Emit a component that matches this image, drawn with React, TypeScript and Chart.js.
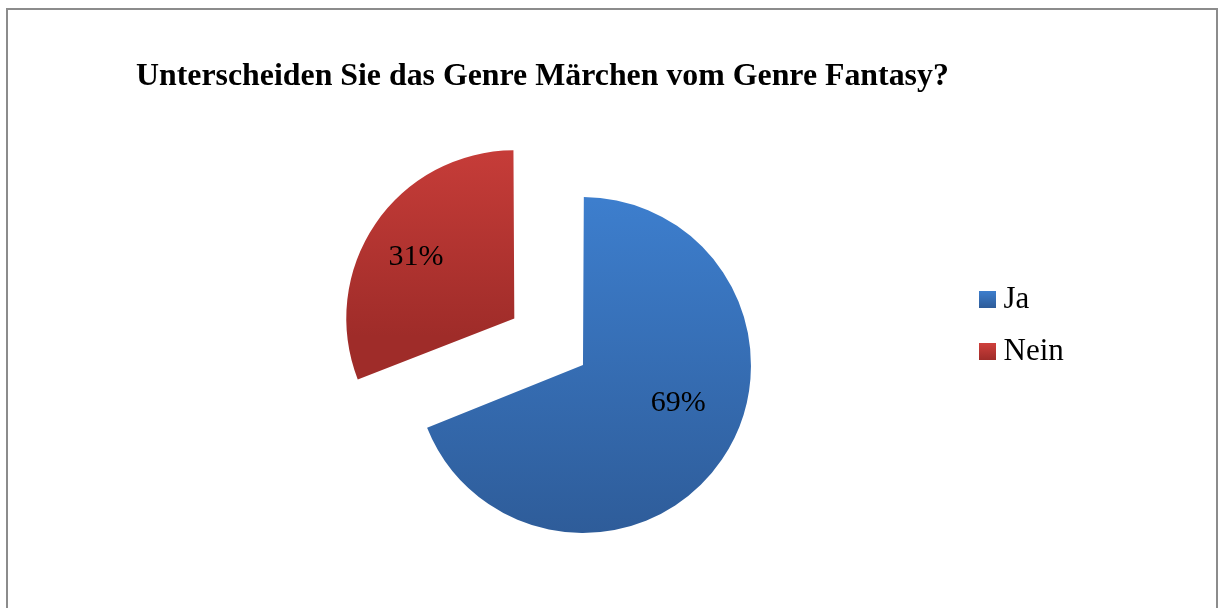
import React, { useEffect, useRef } from 'react';
import { Chart, registerables } from 'chart.js';

Chart.register(...registerables);

// ---- data ----
const TITLE = 'Unterscheiden Sie das Genre Märchen vom Genre Fantasy?';
const categories = ['Ja', 'Nein'];
const values = [69, 31];

// ---- styles ----
const topColors = ['#3d7ecd', '#cf403c'];
const bottomColors = ['#2e5c99', '#9f2c29'];
const FONT = "'Liberation Serif', 'Times New Roman', serif";
const RADIUS = 162.6;
const OFFSETS = [21.6, 310.4];
const LABEL_ANGLE_FRAC = [0.45, 0.48];
const LABEL_RADIUS_FRAC = [0.61, 0.69];

const total = values.reduce((a, b) => a + b, 0);
const valueLabels = values.map((v) => `${Math.round((v / total) * 100)}%`);

function sliceGeometry(chart: any, index: number) {
  const area = chart.chartArea;
  const cx = (area.left + area.right) / 2;
  const cy = (area.top + area.bottom) / 2;
  let start = -Math.PI / 2;
  for (let i = 0; i < index; i++) start += (values[i] / total) * 2 * Math.PI;
  const end = start + (values[index] / total) * 2 * Math.PI;
  const mid = (start + end) / 2;
  const t = OFFSETS[index] / 4;
  const fix = 1 - Math.sin(Math.min(Math.PI, end - start));
  const r = RADIUS + t * fix;
  const ax = cx + Math.cos(mid) * t;
  const ay = cy + Math.sin(mid) * t;
  return { start, end, ax, ay, r };
}

function contains(start: number, end: number, angle: number) {
  for (let k = -2; k <= 2; k++) {
    const a = angle + k * 2 * Math.PI;
    if (a >= start && a <= end) return true;
  }
  return false;
}

function sliceGradient(context: any) {
  const chart = context.chart;
  const i = context.dataIndex;
  if (!chart.chartArea || i === undefined) return topColors[i || 0];
  const g = sliceGeometry(chart, i);
  const ys = [g.ay, g.ay + g.r * Math.sin(g.start), g.ay + g.r * Math.sin(g.end)];
  if (contains(g.start, g.end, -Math.PI / 2)) ys.push(g.ay - g.r);
  if (contains(g.start, g.end, Math.PI / 2)) ys.push(g.ay + g.r);
  const y0 = Math.min(...ys);
  const y1 = Math.max(...ys);
  const grad = chart.ctx.createLinearGradient(0, y0, 0, y1);
  grad.addColorStop(0, topColors[i]);
  grad.addColorStop(1, bottomColors[i]);
  return grad;
}

function makeSprite(i: number) {
  const c = document.createElement('canvas');
  c.width = 17;
  c.height = 17;
  const x = c.getContext('2d')!;
  const grad = x.createLinearGradient(0, 0, 0, 17);
  grad.addColorStop(0, topColors[i]);
  grad.addColorStop(1, bottomColors[i]);
  x.fillStyle = grad;
  x.fillRect(0, 0, 17, 17);
  return c;
}

const sliceLabelPlugin = {
  id: 'sliceLabels',
  afterDatasetsDraw(chart: any) {
    const meta = chart.getDatasetMeta(0);
    const ctx = chart.ctx;
    ctx.save();
    ctx.font = `30px ${FONT}`;
    ctx.fillStyle = '#000';
    ctx.textAlign = 'center';
    ctx.textBaseline = 'middle';
    meta.data.forEach((arc: any, i: number) => {
      const { x, y, startAngle, endAngle, outerRadius } = arc.getProps(
        ['x', 'y', 'startAngle', 'endAngle', 'outerRadius'],
        true
      );
      const t = (arc.options.offset || 0) / 4;
      const mid = (startAngle + endAngle) / 2;
      const fix = 1 - Math.sin(Math.min(Math.PI, endAngle - startAngle));
      const r = outerRadius + t * fix;
      const ax = x + Math.cos(mid) * t;
      const ay = y + Math.sin(mid) * t;
      const ang = startAngle + LABEL_ANGLE_FRAC[i] * (endAngle - startAngle);
      const rr = LABEL_RADIUS_FRAC[i] * r;
      ctx.fillText(valueLabels[i], ax + Math.cos(ang) * rr, ay + Math.sin(ang) * rr);
    });
    ctx.restore();
  },
};

export default function App() {
  const canvasRef = useRef<HTMLCanvasElement | null>(null);

  useEffect(() => {
    if (!canvasRef.current) return;
    const sprites = categories.map((_, i) => makeSprite(i));
    const baseGen = (Chart as any).overrides.doughnut.plugins.legend.labels.generateLabels;
    const chart = new Chart(canvasRef.current, {
      type: 'pie',
      data: {
        labels: categories,
        datasets: [
          {
            data: values,
            backgroundColor: sliceGradient as any,
            borderWidth: 0,
            offset: OFFSETS,
            clip: false as any,
          },
        ],
      },
      options: {
        responsive: false,
        animation: false,
        events: [],
        radius: RADIUS,
        cutout: '0%',
        layout: { padding: { left: 183, right: 150, top: 253, bottom: 147 } },
        plugins: {
          title: { display: false },
          tooltip: { enabled: false },
          legend: {
            position: 'right',
            align: 'start',
            maxWidth: 100,
            labels: {
              usePointStyle: true,
              boxWidth: 1,
              padding: 21,
              color: '#000',
              font: { family: FONT, size: 31 },
              generateLabels: (c: any) =>
                baseGen(c).map((item: any, i: number) => ({
                  ...item,
                  pointStyle: sprites[i],
                  lineWidth: 0,
                })),
            },
          },
        },
      } as any,
      plugins: [sliceLabelPlugin],
    });
    return () => chart.destroy();
  }, []);

  return (
    <div
      style={{
        position: 'absolute',
        left: 6,
        top: 8,
        width: 1208,
        height: 598,
        borderLeft: '2px solid #8c8c8c',
        borderTop: '2px solid #8c8c8c',
        borderRight: '2px solid #8c8c8c',
        background: '#fff',
      }}
    >
      <canvas
        ref={canvasRef}
        width={1208}
        height={598}
        style={{ position: 'absolute', left: 0, top: 0, width: 1208, height: 598, display: 'block' }}
      />
      <div
        style={{
          position: 'absolute',
          left: 128,
          top: 49,
          font: `bold 31.85px ${FONT}`,
          lineHeight: 1,
          whiteSpace: 'nowrap',
          color: '#000',
        }}
      >
        {TITLE}
      </div>
    </div>
  );
}
